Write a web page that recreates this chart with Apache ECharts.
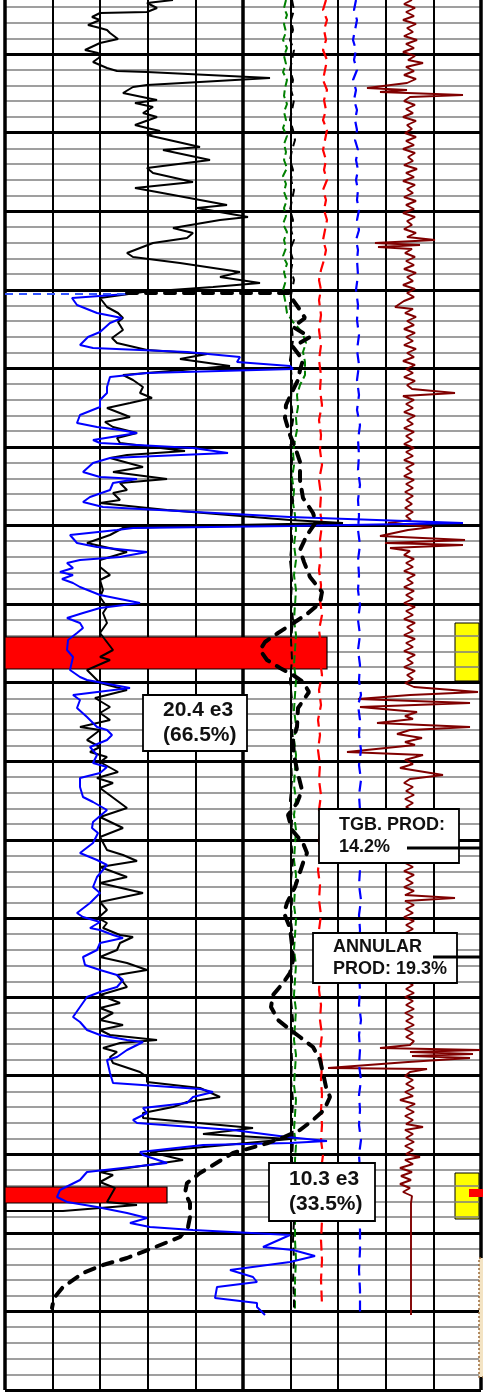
<!DOCTYPE html>
<html><head><meta charset="utf-8">
<script src="https://cdn.jsdelivr.net/npm/echarts@6/dist/echarts.min.js"></script>
<style>html,body{margin:0;padding:0;background:#fff}#chart{width:483px;height:1393px}</style>
</head><body><div id="chart"></div>
<script>
// ---- Data (reading units across the track, depth units down the log) ----
const grCurve = [[173,0],[147,3],[157,8],[147,12],[100,13],[92,17],[100,20],[88,25],[100,28],[107,30],[110,33],[118,39],[100,43],[85,50],[98,53],[100,57],[93,62],[107,68],[117,71],[147,72],[270,78],[147,85],[133,87],[123,93],[147,98],[157,100],[135,103],[153,107],[143,113],[157,117],[135,125],[147,128],[160,131],[147,135],[200,147],[163,150],[210,160],[147,168],[153,173],[193,182],[135,188],[157,192],[227,205],[197,208],[248,217],[220,220],[173,228],[193,233],[187,238],[153,243],[127,253],[133,257],[180,263],[240,272],[220,277],[260,283],[213,287],[143,292],
[100,298],[107,307],[118,313],[123,318],[118,322],[123,330],[112,338],[117,343],[147,350],[207,354],[180,359],[230,366],[123,375],[133,380],[143,387],[140,393],[152,398],[130,403],[107,408],[130,417],[105,422],[113,427],[137,433],[117,438],[120,443],[185,451],[127,455],[110,458],[143,467],[113,472],[167,479],[120,483],[127,490],[113,493],[120,500],[100,503],[167,510],[290,520],[343,523],[233,525],[123,528],[110,535],[87,543],[127,552],[100,560],[100,567],[110,575],
[100,580],[103,590],[100,597],[107,607],[103,613],[107,623],[100,633],[113,650],[100,657],[110,660],[87,670],[97,680],[100,683],[127,690],[95,698],[110,707],[100,713],[110,720],[80,727],[100,730],[87,740],[100,747],[90,752],[107,757],[100,762],[118,772],[97,778],[113,783],[100,788],[127,808],[100,817],[123,828],[100,837],[107,850],[123,855],[137,861],[100,867],[127,877],[100,883],[143,893],[100,902],[107,910],[98,918],[107,923],[103,928],[120,935],[133,937],[120,943],[117,950],[100,957],[127,963],[147,970],[117,975],[123,982],[127,987],[100,995],[120,1003],[100,1008],[113,1013],[100,1020],[123,1025],[100,1030],[110,1035],[157,1040],[120,1043],[103,1048],[117,1052],[110,1057],[113,1063],[140,1072],[147,1077],[147,1082],[200,1088],[220,1097],[187,1102],[173,1107],[143,1113],[143,1118],[253,1128],[203,1134],[290,1139],[150,1152],[183,1160],[100,1172],[113,1175],[100,1182],[115,1188],[107,1202],[137,1205],[63,1211],[5,1211]];

const rtCurve = [[127,294],[72,298],[77,305],[97,313],[122,318],[110,323],[100,332],[88,337],[80,345],[93,348],[187,352],[240,357],[237,362],[290,366],[293,369],[147,373],[110,377],[107,387],[107,393],[100,400],[100,407],[80,415],[77,423],[97,427],[120,430],[137,433],[93,440],[100,443],[193,448],[228,453],[110,458],[93,463],[83,472],[100,477],[137,479],[113,483],[110,490],[90,497],[83,502],[103,507],[290,517],[463,523],[290,526],[133,528],[117,530],[70,535],[77,543],[97,547],[147,552],[120,557],[80,560],[67,563],[73,568],[60,572],[73,575],[62,579],[73,583],[80,587],[100,595],[140,603],[100,608],[83,613],[67,618],[80,623],[83,628],[77,633],[68,640],[67,650],[73,657],[70,670],[80,677],[87,680],[130,688],[73,695],[80,700],[77,708],[87,717],[97,727],[107,730],[112,735],[107,740],[90,747],[97,755],[93,763],[107,767],[100,773],[80,778],[80,787],[83,797],[93,802],[107,810],[93,822],[92,828],[98,833],[93,843],[80,853],[97,860],[107,865],[97,877],[93,887],[100,893],[90,903],[77,913],[83,917],[100,922],[90,928],[100,930],[113,935],[123,938],[100,943],[97,950],[83,957],[85,965],[100,970],[117,975],[123,980],[117,987],[100,992],[87,997],[80,1007],[73,1017],[80,1022],[87,1030],[100,1035],[127,1040],[143,1042],[127,1050],[117,1057],[107,1060],[110,1073],[113,1083],[200,1089],[213,1092],[193,1097],[187,1103],[143,1108],[147,1113],[133,1120],[137,1123],[233,1130],[287,1137],[327,1141],[290,1143],[203,1145],[140,1152],[143,1155],[167,1163],[87,1172],[80,1180],[60,1190],[57,1197],[67,1202],[97,1207],[127,1213],[147,1218],[130,1223],[150,1227],[193,1230],[290,1235],[263,1247],[293,1250],[315,1256],[290,1262],[230,1270],[253,1277],[257,1282],[217,1287],[215,1298],[257,1303],[257,1307],[265,1315]];

const rtLead = [[5,294],[127,294]];

const tempCurve = [[127,293],[290,293],[293,300],[300,310],[305,318],[293,327],[310,337],[293,347],[303,360],[300,370],[298,380],[293,390],[286,405],[285,418],[290,435],[296,450],[300,462],[300,480],[303,498],[313,513],[316,522],[307,535],[300,550],[304,562],[310,577],[322,592],[320,603],[307,614],[292,624],[278,633],[265,642],[260,650],[267,660],[280,668],[293,675],[303,682],[309,692],[298,708],[297,727],[293,740],[294,755],[297,770],[302,790],[297,803],[288,815],[292,830],[303,843],[307,853],[303,863],[299,875],[295,887],[287,903],[284,913],[290,928],[292,945],[293,960],[290,973],[283,983],[273,995],[271,1007],[278,1020],[288,1028],[300,1037],[313,1047],[320,1060],[323,1073],[326,1087],[330,1097],[324,1110],[313,1120],[300,1130],[284,1137],[268,1143],[233,1153],[200,1173],[187,1183],[185,1193],[190,1203],[190,1217],[188,1227],[180,1237],[153,1248],[127,1258],[103,1265],[83,1273],[63,1287],[54,1298],[52,1308]];

const greenCurve = [[286,0],[284,8],[287,15],[284,24],[286,32],[283,40],[287,48],[284,56],[286,64],[283,72],[287,80],[285,88],[284,96],[287,104],[284,112],[286,120],[283,128],[287,136],[284,144],[286,152],[284,160],[287,168],[283,176],[286,184],[284,192],[287,200],[284,208],[286,216],[283,224],[287,232],[284,240],[286,248],[283,256],[287,264],[284,272],[286,280],[283,290],[285,300],[287,313],[293,322],[302,332],[306,343],[303,352],[305,362],[305,375],[300,385],[297,395],[298,407],[296,418],[297,430],[295,440],[293,452],[294,465],[292,478],[294,490],[293,503],[295,515],[296,530],[294,545],[296,560],[294,575],[296,590],[295,605],[294,620],[296,635],[295,650],[294,665],[296,680],[295,695],[294,710],[296,725],[294,740],[296,755],[295,770],[294,785],[296,800],[294,815],[296,830],[295,845],[294,860],[296,875],[295,890],[294,905],[296,920],[295,935],[294,950],[296,965],[295,980],[294,995],[296,1010],[295,1025],[294,1040],[296,1055],[295,1070],[294,1085],[296,1100],[295,1115],[294,1130],[296,1145],[295,1160],[295,1180],[296,1200],[295,1220],[295,1240],[296,1260],[295,1280],[295,1300],[295,1312]];

const blackDashCurve = [[292,0],[294,10],[291,20],[293,30],[290,40],[294,50],[292,60],[290,70],[293,80],[291,90],[294,100],[292,110],[290,120],[293,130],[295,140],[292,150],[290,160],[293,170],[291,180],[294,190],[292,200],[290,210],[293,220],[291,230],[294,240],[290,250],[293,260],[291,270],[294,280],[292,290],[290,300],[291,320],[293,340],[290,360],[292,380],[291,400],[293,420],[290,440],[292,460],[291,480],[293,500],[291,520],[292,540],[290,560],[292,580],[291,600],[293,620],[291,640],[292,660],[290,680],[292,700],[291,720],[293,740],[291,760],[292,780],[290,800],[292,820],[291,840],[293,860],[291,880],[292,900],[291,920],[293,940],[291,960],[292,980],[291,1000],[293,1020],[291,1040],[292,1060],[291,1080],[293,1100],[292,1120],[293,1140],[292,1160],[294,1180],[293,1200],[294,1220],[293,1240],[294,1260],[293,1280],[294,1300],[294,1310]];

const redCurve = [[326,0],[323,10],[327,20],[324,30],[326,40],[323,50],[327,60],[325,70],[323,80],[327,90],[324,100],[326,110],[323,120],[327,130],[325,140],[323,150],[326,160],[324,170],[327,180],[323,190],[326,200],[324,210],[327,220],[325,230],[323,240],[326,250],[324,260],[321,270],[319,280],[321,290],[319,300],[321,315],[319,330],[321,345],[319,360],[321,375],[320,390],[322,405],[319,420],[321,435],[320,450],[322,465],[319,480],[321,495],[320,510],[322,525],[320,540],[321,555],[319,570],[321,585],[320,600],[322,615],[319,630],[321,645],[320,660],[322,675],[319,690],[321,705],[318,720],[320,735],[318,750],[320,765],[319,780],[321,795],[319,810],[321,825],[319,840],[320,855],[318,870],[320,885],[319,900],[321,915],[319,930],[320,945],[318,960],[320,975],[319,990],[321,1005],[320,1020],[322,1035],[320,1050],[322,1065],[321,1080],[322,1095],[321,1110],[322,1125],[321,1140],[323,1155],[321,1170],[322,1185],[321,1200],[322,1220],[321,1240],[322,1260],[321,1280],[322,1305]];

const blueDashCurve = [[356,0],[354,10],[357,20],[355,30],[353,40],[356,50],[354,60],[357,70],[353,80],[356,90],[354,100],[357,110],[355,120],[357,130],[355,140],[358,150],[356,160],[358,170],[356,180],[358,190],[357,200],[359,210],[357,220],[359,230],[356,240],[358,250],[357,260],[358,275],[356,290],[358,305],[357,320],[359,335],[357,350],[359,365],[357,380],[359,395],[357,410],[360,425],[358,440],[359,455],[358,470],[360,485],[358,500],[359,515],[358,530],[360,545],[358,560],[359,575],[358,590],[360,605],[358,620],[360,635],[358,650],[360,665],[359,680],[361,695],[358,705],[360,720],[359,735],[361,750],[359,765],[361,780],[359,795],[360,810],[359,825],[361,840],[359,855],[360,870],[359,885],[361,900],[359,915],[360,930],[359,945],[361,960],[359,975],[360,990],[359,1005],[361,1020],[359,1035],[360,1050],[359,1065],[361,1080],[359,1095],[360,1110],[359,1125],[361,1140],[359,1155],[360,1170],[360,1190],[359,1210],[360,1230],[360,1250],[359,1270],[360,1290],[360,1315]];

const noiseCurve = [[412,0],[404,4],[415,8],[406,12],[414,16],[403,20],[416,24],[407,28],[413,32],[404,36],[417,40],[406,44],[414,48],[403,52],[415,56],[408,60],[423,63],[406,67],[414,71],[404,75],[416,79],[407,83],
[367,88],[407,90],[380,92],[463,95],[410,97],
[404,101],[415,105],[406,109],[413,113],[403,117],[416,121],[407,125],[412,129],[405,133],[416,137],[406,141],[414,145],[403,149],[415,153],[408,157],[413,161],[404,165],[417,169],[406,173],[414,177],[403,181],[415,185],[407,189],[413,193],[404,197],[416,201],[406,205],[414,209],[403,213],[415,217],[407,221],[412,225],[404,229],[416,233],[407,237],
[435,240],[375,243],[420,245],[378,247],[412,249],
[405,253],[415,257],[406,261],[414,265],[404,269],[416,273],[407,277],[413,281],[403,285],[415,289],[407,293],[414,297],[404,301],[395,307],[413,309],[405,313],[416,317],[407,321],[414,325],[404,329],[415,333],[406,337],[413,341],[404,345],[416,349],[407,353],[414,357],[403,361],[415,365],[406,369],[413,373],[404,377],[415,381],[407,385],[412,389],[455,393],[403,396],[414,400],[406,404],[413,408],[404,412],[415,416],[407,420],[413,424],[404,428],[414,432],[406,436],[412,440],[404,444],[414,448],[406,452],[413,456],[404,460],[414,464],[406,468],[412,472],[404,476],[414,480],[406,484],[413,488],[405,492],[413,496],[406,500],[412,504],[405,508],[413,512],[406,516],[411,520],
[388,523],[432,527],[408,530],[380,536],[465,540],[385,543],[463,545],[390,548],[410,551],
[404,555],[414,559],[406,563],[413,567],[404,571],[415,575],[407,579],[413,583],[404,587],[414,591],[406,595],[413,599],[404,603],[415,607],[406,611],[413,615],[404,619],[415,623],[407,627],[413,631],[404,635],[415,639],[406,643],[413,647],[404,651],[415,655],[407,659],[413,663],[404,667],[415,671],[407,675],[413,679],[405,683],[414,687],
[478,692],[410,695],[358,699],[470,703],[360,707],[417,712],[405,716],[413,719],[377,723],[470,727],[410,730],[397,734],[422,738],[405,742],[415,745],[347,752],[423,755],[405,760],[413,764],[400,768],[443,775],[410,779],
[404,783],[413,787],[406,791],[414,795],[405,799],[413,803],[406,807],[414,811],[405,815],[413,819],[406,823],[414,827],[405,831],[413,835],[406,839],[414,843],[405,847],[413,851],[406,855],[414,859],[405,863],[413,867],[404,871],[414,875],[406,879],[413,883],[404,887],[414,891],[405,895],[455,898],[405,901],[414,905],[406,909],[413,913],[404,917],[414,921],[406,925],[413,929],[405,933],[413,937],[406,941],[414,945],[405,949],[413,953],[406,957],[414,961],[405,965],[413,969],[406,973],[414,977],[405,981],[413,985],[406,989],[414,993],[405,997],[413,1001],[406,1005],[414,1009],[405,1013],[413,1017],[406,1021],[414,1025],[405,1029],[413,1033],[406,1037],[414,1041],[410,1045],
[380,1048],[480,1050],[410,1052],[473,1054],[412,1056],[470,1058],[408,1062],[328,1068],[427,1069],[410,1072],
[405,1076],[413,1080],[406,1084],[414,1088],[405,1092],[413,1096],[400,1100],[415,1104],[406,1108],[414,1112],[405,1116],[413,1120],[406,1124],[423,1127],[405,1130],[413,1134],[406,1138],[414,1142],[405,1146],[413,1150],[406,1154],[420,1157],[405,1160],[413,1164],[400,1168],[412,1172],[401,1176],[411,1180],[400,1184],[410,1188],[403,1192],[412,1196],[411,1203],[411,1315]];

// interval marks: [readingStart, readingEnd, depthTop, depthBottom]
const perfIntervals = [[5,327,637,669],[5,167,1187,1203]];
const yellowMarks = [[455,479,623,681],[455,479,1173,1219]];
const redMarks = [[469,483,1189,1197]];
const brownMarks = [[479,492,1258,1377]];
const annotationBoxes = [[143,247,695,751],[319,459,809,863],[313,457,933,983],[269,375,1163,1221]];
const annotationTexts = ['20.4 e3\n(66.5%)','TGB. PROD:\n14.2%','ANNULAR\nPROD: 19.3%','10.3 e3\n(33.5%)'];
const leaderA = [[407,848],[481,848]];
const leaderB = [[433,957],[481,957]];

// ---- styles ----
const annFontSize = [21,18,18,21];
const FONT = 'Liberation Sans';

function rectRender(fill, stroke, lw, dash) {
  return function (params, api) {
    const p0 = api.coord([api.value(0), api.value(2)]);
    const p1 = api.coord([api.value(1), api.value(3)]);
    return {
      type: 'rect',
      shape: { x: p0[0], y: p0[1], width: p1[0] - p0[0], height: p1[1] - p0[1] },
      style: { fill: fill, stroke: stroke, lineWidth: lw, lineDash: dash || null }
    };
  };
}
function annRender(params, api) {
  const p0 = api.coord([api.value(0), api.value(2)]);
  const p1 = api.coord([api.value(1), api.value(3)]);
  const fs = annFontSize[params.dataIndex];
  return {
    type: 'group',
    children: [
      { type: 'rect', shape: { x: p0[0], y: p0[1], width: p1[0] - p0[0], height: p1[1] - p0[1] },
        style: { fill: '#fff', stroke: '#000', lineWidth: 1.8 } },
      { type: 'text', style: {
          text: annotationTexts[params.dataIndex], x: p0[0] + 20, y: (p0[1] + p1[1]) / 2,
          fill: '#111', fontSize: fs, fontWeight: 'bold', fontFamily: FONT, align: 'left', verticalAlign: 'middle',
          lineHeight: Math.round(fs * 1.2) } }
    ]
  };
}
function lineSeries(name, data, color, width, type, z, cap) {
  return { name: name, type: 'line', xAxisIndex: 2, yAxisIndex: 1, data: data, showSymbol: false, symbol: 'none',
    z: z, lineStyle: { color: color, width: width, type: type, cap: cap || 'butt' }, silent: true };
}

const chart = echarts.init(document.getElementById('chart'), null, { renderer: 'canvas' });
chart.setOption({
  animation: false,
  backgroundColor: '#ffffff',
  grid: { left: 5, right: 2, top: -24.6, bottom: 3, outerBoundsMode: 'none', containLabel: false },
  xAxis: [
    { type: 'value', min: 0, max: 10, interval: 1, axisLine: { show: false }, axisTick: { show: false }, axisLabel: { show: false },
      splitLine: { show: true, lineStyle: { color: '#000', width: 2 } } },
    { type: 'value', min: 0, max: 10, interval: 5, axisLine: { show: false }, axisTick: { show: false }, axisLabel: { show: false },
      splitLine: { show: true, lineStyle: { color: '#000', width: 3.5 } } },
    { type: 'value', min: 5, max: 481, show: false, splitLine: { show: false } }
  ],
  yAxis: [
    { type: 'value', min: 0, max: 18, interval: 1, inverse: true, axisLine: { show: false }, axisTick: { show: false }, axisLabel: { show: false },
      splitLine: { show: true, lineStyle: { color: '#000', width: 3 } },
      minorTick: { show: false, splitNumber: 5 },
      minorSplitLine: { show: true, lineStyle: { color: '#808080', width: 1.5 } } },
    { type: 'value', min: -24.6, max: 1390, inverse: true, show: false, splitLine: { show: false } }
  ],
  series: [
    { type: 'custom', name: 'yellow', xAxisIndex: 2, yAxisIndex: 1, z: -1, data: yellowMarks, renderItem: rectRender('#ffff00', '#000', 1) },
    { type: 'custom', name: 'perf', xAxisIndex: 2, yAxisIndex: 1, z: 2, data: perfIntervals, renderItem: rectRender('#ff0000', '#000', 1.2) },
    { type: 'custom', name: 'redmark', xAxisIndex: 2, yAxisIndex: 1, z: 2, data: redMarks, renderItem: rectRender('#ff0000', null, 0) },
    { type: 'custom', name: 'brown', xAxisIndex: 2, yAxisIndex: 1, z: 2, data: brownMarks, renderItem: rectRender('#f3e3c3', '#9a6a3a', 1.5, [2, 2]) },
    lineSeries('noise', noiseCurve, '#800000', 1.9, 'solid', 3),
    lineSeries('red', redCurve, '#ff0000', 2.2, [11, 6], 3),
    lineSeries('bluedash', blueDashCurve, '#0000ff', 2.2, [11, 7], 3),
    lineSeries('green', greenCurve, '#008000', 2, [8, 4], 3),
    lineSeries('blackdash', blackDashCurve, '#000000', 2, [8, 5], 3),
    lineSeries('gr', grCurve, '#000000', 2, 'solid', 3),
    lineSeries('rt', rtCurve, '#0000ff', 2, 'solid', 3),
    lineSeries('rtlead', rtLead, '#3355ff', 1.8, [8, 6], 3),
    lineSeries('temp', tempCurve, '#000000', 4, [10, 9], 4, 'round'),
    { type: 'custom', name: 'ann', xAxisIndex: 2, yAxisIndex: 1, z: 5, data: annotationBoxes, renderItem: annRender },
    Object.assign(lineSeries('leaderA', leaderA, '#000', 3, 'solid', 6), { clip: false }),
    Object.assign(lineSeries('leaderB', leaderB, '#000', 3, 'solid', 6), { clip: false })
  ]
});
</script></body></html>
